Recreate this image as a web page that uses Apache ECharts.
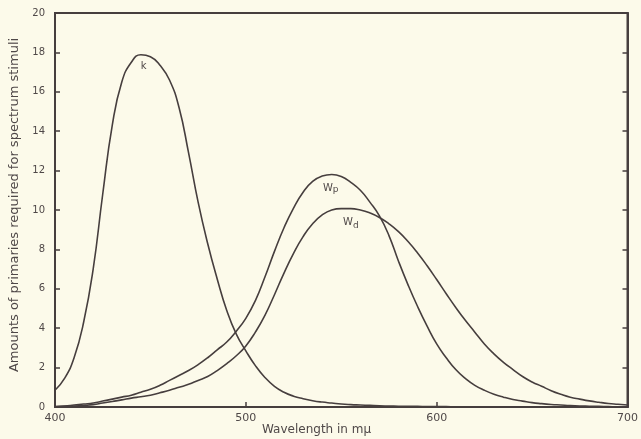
<!DOCTYPE html>
<html><head><meta charset="utf-8">
<script src="https://cdn.jsdelivr.net/npm/echarts@6/dist/echarts.min.js"></script>
<style>html,body{margin:0;padding:0;background:#fcfaea;}#c{width:641px;height:439px;}</style>
</head><body><div id="c"></div>
<script>
// Wavelengths (mμ), 5 mμ steps, and amounts
var wavelengths = [400,405,410,415,420,425,430,435,440,445,450,455,460,465,470,475,480,485,490,495,500,
  505,510,515,520,525,530,535,540,545,550,555,560,565,570,575,580,585,590,595,600,
  605,610,615,620,625,630,635,640,645,650,655,660,665,670,675,680,685,690,695,700];

var kVals = [0.85,1.45,2.5,4.3,7.0,10.8,14.3,16.5,17.5,17.88,17.78,17.35,16.6,15.2,12.9,10.4,8.3,6.5,4.9,3.7,2.85,
  2.1,1.5,1.05,0.75,0.55,0.42,0.32,0.25,0.2,0.15,0.12,0.1,0.08,0.06,0.05,0.04,0.03,0.03,0.02,0.02,
  0.02,0.01,0.01,0.01,0.01,0.01,0,0,0,0,0,0,0,0,0,0,0,0,0,0];

var wpVals = [0.02,0.05,0.1,0.15,0.2,0.3,0.4,0.5,0.6,0.75,0.9,1.1,1.35,1.6,1.85,2.15,2.5,2.9,3.3,3.85,4.5,
  5.4,6.6,7.9,9.1,10.1,10.9,11.45,11.72,11.8,11.7,11.4,11.0,10.4,9.7,8.7,7.4,6.2,5.1,4.1,3.2,
  2.5,1.9,1.45,1.1,0.85,0.65,0.5,0.38,0.3,0.22,0.17,0.13,0.1,0.07,0.05,0.04,0.03,0.02,0.01,0.01];

var wdVals = [0.01,0.03,0.05,0.08,0.12,0.2,0.28,0.36,0.45,0.52,0.6,0.72,0.85,1.0,1.15,1.35,1.55,1.85,2.2,2.6,3.1,
  3.8,4.65,5.7,6.8,7.8,8.65,9.3,9.75,10.0,10.07,10.07,10.0,9.85,9.62,9.3,8.9,8.4,7.82,7.17,6.47,
  5.75,5.05,4.4,3.8,3.2,2.7,2.27,1.9,1.55,1.27,1.05,0.83,0.65,0.5,0.4,0.31,0.24,0.18,0.14,0.1];

var xTicks = [400,500,600,700];
var yTicks = [0,2,4,6,8,10,12,14,16,18,20];

function pairs(w, v){ return w.map(function(x,i){ return [x, v[i]]; }); }

var ink = '#463e3e';
var txt = '#4f4848';
var font = 'DejaVu Sans';

var chart = echarts.init(document.getElementById('c'), null, {renderer:'canvas'});
var lineStyle = {color: ink, width: 1.6};
chart.setOption({
  backgroundColor: '#fcfaea',
  animation: false,
  grid: {left: 52, right: 11, top: 13, bottom: 32, show: true, borderColor: ink, borderWidth: 2},
  graphic: [{
    type: 'text', left: 262, top: 424,
    style: {text: 'Wavelength in mμ', fill: txt, font: '12px "DejaVu Sans"'}
  }],
  xAxis: [{
    type: 'value', min: 400, max: 700, interval: 100,
    axisLine: {show: true, lineStyle: {color: ink, width: 2}},
    axisTick: {show: true, inside: true, length: 5, lineStyle: {color: ink, width: 1.5}},
    axisLabel: {color: txt, fontFamily: font, fontSize: 11, margin: 6,
      formatter: function(v){ return xTicks.indexOf(v) >= 0 ? String(v) : ''; }},
    splitLine: {show: false}
  }],
  yAxis: [{
    type: 'value', min: 0, max: 20, interval: 2,
    name: 'Amounts of primaries required for spectrum stimuli', nameLocation: 'middle', nameGap: 34,
    nameTextStyle: {color: txt, fontFamily: font, fontSize: 13, padding: [0, 0, 0, 10]},
    axisLine: {show: true, lineStyle: {color: ink, width: 2}},
    axisTick: {show: true, inside: true, length: 5, lineStyle: {color: ink, width: 1.5}},
    axisLabel: {color: txt, fontFamily: font, fontSize: 10, margin: 10,
      formatter: function(v){ return yTicks.indexOf(v) >= 0 ? String(v) : ''; }},
    splitLine: {show: false}
  },{
    type: 'value', min: 0, max: 20, interval: 2, position: 'right',
    axisLine: {show: true, lineStyle: {color: ink, width: 2}},
    axisTick: {show: true, inside: true, length: 5, lineStyle: {color: ink, width: 1.5}},
    axisLabel: {show: false}, splitLine: {show: false}
  }],
  series: [
    {name: 'k', type: 'line', smooth: true, symbol: 'none', data: pairs(wavelengths, kVals), lineStyle: lineStyle,
     markPoint: {symbol: 'circle', symbolSize: 0, data: [{coord: [446.5, 17.3], label: {show: true, formatter: 'k', color: txt, fontFamily: font, fontSize: 10}}]}},
    {name: 'Wp', type: 'line', smooth: true, symbol: 'none', data: pairs(wavelengths, wpVals), lineStyle: lineStyle,
     markPoint: {symbol: 'circle', symbolSize: 0, data: [{coord: [544.5, 11.1], label: {show: true, formatter: 'W{s|p}', color: txt, fontFamily: font, fontSize: 10,
       rich: {s: {fontSize: 9, color: txt, fontFamily: font, padding: [3,0,0,0]}}}}]}},
    {name: 'Wd', type: 'line', smooth: true, symbol: 'none', data: pairs(wavelengths, wdVals), lineStyle: lineStyle,
     markPoint: {symbol: 'circle', symbolSize: 0, data: [{coord: [555, 9.35], label: {show: true, formatter: 'W{s|d}', color: txt, fontFamily: font, fontSize: 10,
       rich: {s: {fontSize: 9, color: txt, fontFamily: font, padding: [5,0,0,0]}}}}]}}
  ]
});
</script></body></html>
